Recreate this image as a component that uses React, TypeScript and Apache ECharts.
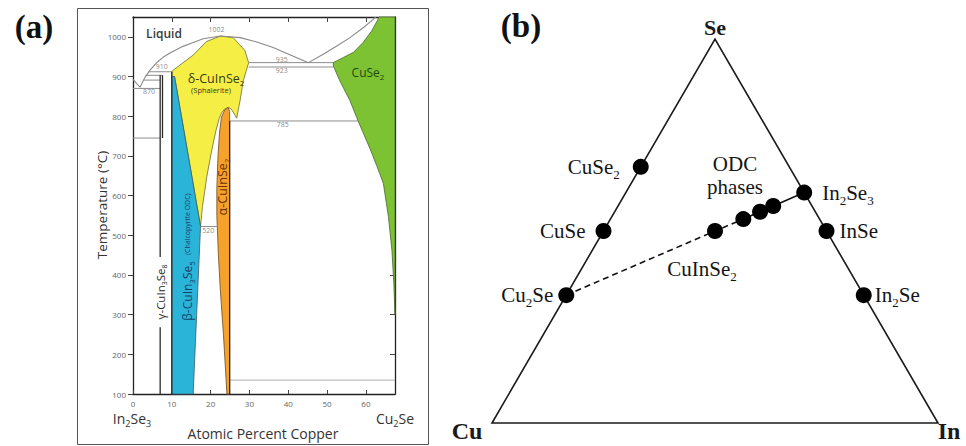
import React, { useEffect, useRef } from "react";
import * as echarts from "echarts";

const SANS = '"Open Sans", "Noto Sans", "DejaVu Sans", sans-serif';
const SERIF = '"Liberation Serif", "Times New Roman", "DejaVu Serif", serif';

// ---------------- Panel (a): In2Se3 – Cu2Se pseudo-binary phase diagram ----------------
const copperMin = 0;
const copperMax = 67.5;
const tempMin = 100;
const tempMax = 1050;
const copperTicks = [0, 10, 20, 30, 40, 50, 60];
const tempTicks = [100, 200, 300, 400, 500, 600, 700, 800, 900, 1000];

// phase fields, [at.% Cu, T °C]
const deltaRegion = [
  [10, 913], [12.1, 929], [15.5, 954], [18.9, 988], [22.5, 1002], [25.8, 998],
  [28.8, 966], [29.8, 935], [28.4, 889], [27.6, 840], [27.1, 815], [26.7, 795],
  [26.1, 806], [25.3, 818], [24.5, 822], [23.6, 818], [22.8, 808], [22.2, 794],
  [21.4, 765], [20.3, 715], [19.0, 647], [17.9, 572], [17.4, 522], [10.7, 900], [10, 900],
];
const betaRegion = [[10, 900], [10.7, 900], [17.4, 522], [15.5, 100], [10, 100]];
const alphaRegion = [
  [24.5, 822], [24.9, 812], [24.9, 100], [24.2, 100], [23.3, 250], [22.5, 362],
  [22.0, 450], [21.6, 550], [21.6, 620], [21.9, 700], [22.3, 760], [22.8, 798], [23.6, 815],
];
const cuse2Region = [
  [51.6, 935], [54.2, 948], [56.8, 961], [59.3, 986], [61.5, 1015], [62.9, 1040],
  [63.4, 1050], [67.5, 1050], [67.5, 300], [67.2, 379], [66.7, 463], [65.8, 547],
  [64.5, 631], [62.8, 675], [61.2, 715], [58.0, 788], [55.9, 839], [53.3, 889], [51.6, 927],
];

// liquidus curves
const liquidusLeft = [
  [0, 893], [1.8, 873], [3.1, 898], [4.4, 916], [6, 934], [7.8, 949], [10, 962],
  [12.9, 976], [15.5, 986], [18.1, 995], [22.5, 1002], [27.6, 998], [31.9, 987],
  [36.1, 973], [40.4, 955], [45.2, 935],
];
const liquidusRight = [[45.2, 935], [49, 956], [52.5, 977], [55.9, 998], [59.3, 1023], [61.9, 1044], [62.5, 1050]];

// isotherms: from x, to x, temperature
const isothermFrom = [0, 0, 2.8, 3.2, 4.0, 29.8, 29.8, 24.9, 17.4, 24.9];
const isothermTo = [7, 7, 7, 7.6, 10, 51.6, 51.6, 58.0, 21.6, 67.5];
const isothermTemp = [870, 745, 891, 903, 912, 935, 924, 788, 522, 135];

// vertical phase lines: x, from T, to T
const verticalCopper = [7, 7, 7.6, 10, 24.9];
const verticalFrom = [100, 445, 745, 100, 100];
const verticalTo = [268, 903, 903, 912, 788];

// small temperature annotations
const noteTexts = ["1002", "910", "870", "935", "923", "785", "520"];
const noteCopper = [21.5, 7.4, 4.1, 38.3, 38.3, 38.6, 19.4];
const noteTemp = [1019, 925, 863, 944, 914, 778, 513];

// ---------------- Panel (b): Cu–In–Se ternary ----------------
const phaseNames = ["CuSe2", "CuSe", "Cu2Se", "In2Se3", "InSe", "In2Se", "CuInSe2", "ODC-1", "ODC-2", "ODC-3"];
const phaseCu = [0.333, 0.5, 0.667, 0, 0, 0, 0.25, 0.171, 0.124, 0.087];
const phaseIn = [0, 0, 0, 0.4, 0.5, 0.667, 0.25, 0.298, 0.326, 0.348];
const vertexNames = ["Cu", "In", "Se"];
const vertexCu = [1, 0, 0];
const vertexIn = [0, 1, 0];
const dashedPath = ["Cu2Se", "CuInSe2", "ODC-1"];
const solidPath = ["ODC-1", "ODC-2", "ODC-3", "In2Se3"];

const H = Math.sqrt(3) / 2;
const tri = (cu: number, inn: number) => {
  const se = 1 - cu - inn;
  return [inn + se / 2, se * H];
};
const phasePoint = (name: string) => {
  const i = phaseNames.indexOf(name);
  return tri(phaseCu[i], phaseIn[i]);
};
const sub = (s: string) => s.replace(/(\d+)/g, "{s|$1}");

function buildOption() {
  const polygon = (pts: number[][], fill: string, stroke: string, xi: number, yi: number, lw = 0.8) => ({
    type: "custom",
    xAxisIndex: xi,
    yAxisIndex: yi,
    silent: true,
    z: 2,
    data: pts,
    renderItem: (params: any, api: any) => {
      if (params.dataIndex !== 0) return null;
      return {
        type: "polygon",
        shape: { points: pts.map((p) => api.coord(p)) },
        style: { fill, stroke, lineWidth: lw },
      };
    },
  });
  const line = (pts: number[][], color: string, width: number, xi = 0, yi = 0, type: any = "solid", z = 3) => ({
    type: "line",
    xAxisIndex: xi,
    yAxisIndex: yi,
    data: pts,
    symbol: "none",
    showSymbol: false,
    silent: true,
    z,
    lineStyle: { color, width, type },
  });

  const series: any[] = [
    polygon(deltaRegion, "#f5ef45", "#6b6b3a", 0, 0),
    polygon(betaRegion, "#2ab4d8", "#3d5a66", 0, 0),
    polygon(alphaRegion, "#f5a12b", "#6b4a1e", 0, 0),
    polygon(cuse2Region, "#7dc232", "#4a6630", 0, 0),
    line(liquidusLeft, "#8a8a8a", 1.1),
    line(liquidusRight, "#8a8a8a", 1.1),
  ];
  isothermTemp.forEach((t, i) => {
    series.push(line([[isothermFrom[i], t], [isothermTo[i], t]], i === 9 ? "#b0b0b0" : "#8c8c8c", 1));
  });
  verticalCopper.forEach((x, i) => {
    series.push(line([[x, verticalFrom[i]], [x, verticalTo[i]]], "#2a2a2a", 1.3));
  });
  series.push({
    type: "scatter",
    xAxisIndex: 0,
    yAxisIndex: 0,
    symbolSize: 0,
    silent: true,
    z: 6,
    itemStyle: { color: "#6a6a6a" },
    data: noteTexts.map((t, i) => ({ value: [noteCopper[i], noteTemp[i]], name: t })),
    label: {
      show: true, position: "inside", formatter: "{b}", fontSize: 7, color: "#6a6a6a",
      fontFamily: SANS, textBorderWidth: 0, textBorderColor: "transparent",
    },
  });

  // ternary
  const triangle = vertexNames.map((_, i) => tri(vertexCu[i], vertexIn[i]));
  series.push(polygon(triangle, "none", "#1a1a1a", 2, 2, 1.6));
  series.push(line(dashedPath.map(phasePoint), "#111", 1.6, 2, 2, [6, 4], 4));
  series.push(line(solidPath.map(phasePoint), "#111", 1.6, 2, 2, "solid", 4));

  const labelCfg: Record<string, any> = {
    CuSe2: { position: "left", distance: 13 },
    CuSe: { position: "left", distance: 10 },
    Cu2Se: { position: "left", distance: 5 },
    In2Se3: { position: "right", distance: 10 },
    InSe: { position: "right", distance: 5 },
    In2Se: { position: "right", distance: 3 },
    CuInSe2: { position: "bottom", distance: 16, offset: [-13, 0] },
    "ODC-2": { position: "top", distance: 5, offset: [-25, 0], lineHeight: 23, formatter: "ODC\nphases" },
  };
  series.push({
    type: "scatter",
    xAxisIndex: 2,
    yAxisIndex: 2,
    symbol: "circle",
    symbolSize: 16,
    silent: true,
    z: 5,
    itemStyle: { color: "#000", opacity: 1 },
    data: phaseNames.map((n, i) => {
      const cfg = labelCfg[n];
      return {
        value: tri(phaseCu[i], phaseIn[i]),
        name: n,
        label: cfg ? { show: true, ...cfg } : { show: false },
      };
    }),
    label: {
      show: true,
      formatter: (p: any) => sub(p.name),
      fontSize: 21,
      lineHeight: 28,
      fontFamily: SERIF,
      color: "#151515",
      textBorderWidth: 0,
      rich: {
        s: { fontSize: 13, lineHeight: 13, verticalAlign: "bottom", fontFamily: SERIF, color: "#151515" },
      },
    },
  });

  const gText = (text: string, x: number, y: number, o: any = {}) => ({
    type: "text",
    x,
    y,
    z: 100,
    rotation: o.rotation || 0,
    silent: true,
    style: {
      text,
      fontSize: o.size || 12,
      fontFamily: o.family || SANS,
      fontWeight: o.weight || "normal",
      fill: o.fill || "#333",
      align: "center",
      verticalAlign: "middle",
      textAlign: "center",
      textVerticalAlign: "middle",
      lineHeight: o.lineHeight || Math.round((o.size || 12) * 1.35),
      rich: {
        s: {
          fontSize: o.subSize || Math.round((o.size || 12) * 0.65),
          lineHeight: o.subSize || Math.round((o.size || 12) * 0.65),
          verticalAlign: "bottom",
          fontFamily: o.family || SANS,
          fontWeight: o.weight || "normal",
          fill: o.fill || "#333",
        },
        c: { fontSize: 7, fontFamily: SANS, fill: o.fill || "#333" },
      },
    },
  });

  const graphic: any[] = [
    {
      type: "rect",
      z: 100,
      silent: true,
      shape: { x: 77.5, y: 8.5, width: 351, height: 436 },
      style: { fill: "none", stroke: "#555", lineWidth: 1 },
    },
    gText("(a)", 34, 27, { size: 33, family: SERIF, weight: "bold", fill: "#111" }),
    gText("(b)", 521, 26, { size: 33, family: SERIF, weight: "bold", fill: "#111" }),
    gText("Liquid", 164, 33, { size: 12, weight: 600, fill: "#3a3a3a" }),
    gText(sub("δ-CuInSe2"), 216, 78, { size: 12.5, fill: "#3a3a1a" }),
    gText("(Sphalerite)", 211, 90, { size: 7.5, fill: "#3a3a1a" }),
    gText(sub("CuSe2"), 368, 72, { size: 12, fill: "#224a10" }),
    gText(sub("α-CuInSe2"), 222, 187, { size: 12.5, fill: "#6b3300", rotation: Math.PI / 2 }),
    gText(sub("β-CuIn3Se5") + "  {c|(Chalcopyrite ODC)}", 187, 257, { size: 12, fill: "#17406b", rotation: Math.PI / 2 }),
    gText(sub("γ-CuIn3Se8"), 160, 292, { size: 11.5, fill: "#2a2a2a", rotation: Math.PI / 2 }),
    gText("Temperature (°C)", 102, 205, { size: 13.5, fill: "#333", rotation: Math.PI / 2 }),
    gText(sub("In2Se3"), 132, 418, { size: 14, fill: "#333" }),
    gText(sub("Cu2Se"), 395, 418, { size: 14, fill: "#333" }),
    gText("Atomic Percent Copper", 263, 433, { size: 14, fill: "#333" }),
    gText("Se", 715, 27, { size: 22, family: SERIF, weight: "bold", fill: "#1a1a1a" }),
    gText("Cu", 467, 431, { size: 24, family: SERIF, weight: "bold", fill: "#1a1a1a", lineHeight: 26 }),
    gText("In", 949, 431, { size: 24, family: SERIF, weight: "bold", fill: "#1a1a1a", lineHeight: 26 }),
  ];

  const plain = (v: number) => String(v);
  const axisLine = { show: true, onZero: false, lineStyle: { color: "#222", width: 1.3 } };
  return {
    animation: false,
    backgroundColor: "#fff",
    grid: [
      { left: 133, top: 17, width: 262, height: 377, containLabel: false, outerBoundsMode: "none" },
      { left: 492, top: 39, width: 446, height: 384, containLabel: false, outerBoundsMode: "none" },
    ],
    xAxis: [
      {
        gridIndex: 0, type: "value", min: copperMin, max: copperMax, interval: 10, position: "bottom",
        axisLine,
        axisTick: { show: true, inside: true, length: 4, customValues: copperTicks, lineStyle: { color: "#444" } },
        axisLabel: { show: true, margin: 5, fontSize: 8, color: "#666", fontFamily: SANS, customValues: copperTicks, formatter: plain },
        splitLine: { show: false },
      },
      {
        gridIndex: 0, type: "value", min: copperMin, max: copperMax, interval: 10, position: "top",
        axisLine,
        axisTick: { show: true, inside: true, length: 5, customValues: copperTicks.slice(1), lineStyle: { color: "#444" } },
        axisLabel: { show: false },
        splitLine: { show: false },
      },
      { gridIndex: 1, type: "value", min: 0, max: 1, show: false, splitLine: { show: false } },
    ],
    yAxis: [
      {
        gridIndex: 0, type: "value", min: tempMin, max: tempMax, interval: 100, position: "left",
        axisLine,
        axisTick: { show: true, inside: false, length: 5, customValues: tempTicks, lineStyle: { color: "#444" } },
        axisLabel: { show: true, margin: 7, fontSize: 8, color: "#666", fontFamily: SANS, customValues: tempTicks, formatter: plain },
        splitLine: { show: false },
      },
      {
        gridIndex: 0, type: "value", min: tempMin, max: tempMax, interval: 100, position: "right",
        axisLine,
        axisTick: { show: true, inside: true, length: 5, customValues: tempTicks.slice(1), lineStyle: { color: "#444" } },
        axisLabel: { show: false },
        splitLine: { show: false },
      },
      { gridIndex: 1, type: "value", min: 0, max: H, show: false, splitLine: { show: false } },
    ],
    series,
    graphic,
  };
}

export default function App() {
  const ref = useRef<HTMLDivElement>(null);
  useEffect(() => {
    if (!ref.current) return;
    const chart = echarts.init(ref.current, undefined, { renderer: "svg" });
    chart.setOption(buildOption() as any);
    return () => chart.dispose();
  }, []);
  return (
    <div
      ref={ref}
      style={{ position: "fixed", left: 0, top: 0, width: 966, height: 446, background: "#fff" }}
    />
  );
}
